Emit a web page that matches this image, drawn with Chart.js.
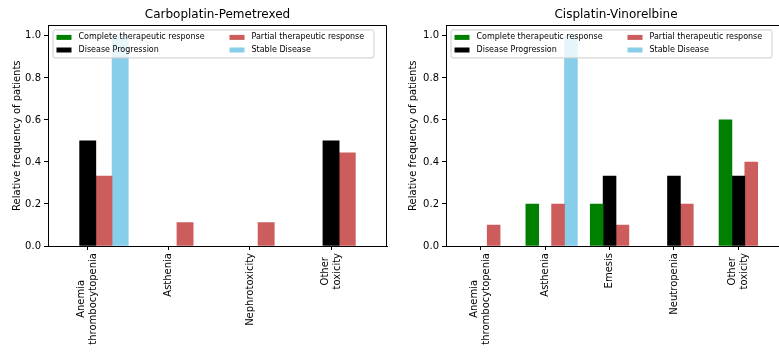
<!DOCTYPE html>
<html>
<head>
<meta charset="utf-8">
<script src="https://cdn.jsdelivr.net/npm/chart.js@4"></script>
<style>
  body { margin: 0; background: #fff; width: 779px; height: 352px; overflow: hidden; position: relative; }
  .box { position: absolute; top: 0; height: 352px; overflow: hidden; }
</style>
</head>
<body>
<div class="box" style="left:0;width:390px"><canvas id="chart1" width="390" height="352"></canvas></div>
<div class="box" style="left:390px;width:389px"><canvas id="chart2" width="396" height="352"></canvas></div>
<script>
// series names (legend order: column by column)
const seriesNames = ['Complete therapeutic response', 'Disease Progression', 'Partial therapeutic response', 'Stable Disease'];
const yTicks = [0, 0.2, 0.4, 0.6, 0.8, 1.0];

// Carboplatin-Pemetrexed
const carboCats = [['Anemia', 'thrombocytopenia'], 'Asthenia', 'Nephrotoxicity', ['Other', 'toxicity']];
const carboComplete = [0, 0, 0, 0];
const carboProgression = [0.5, 0, 0, 0.5];
const carboPartial = [0.333, 0.111, 0.111, 0.444];
const carboStable = [1.0, 0, 0, 0];

// Cisplatin-Vinorelbine
const cisCats = [['Anemia', 'thrombocytopenia'], 'Asthenia', 'Emesis', 'Neutropenia', ['Other', 'toxicity']];
const cisComplete = [0, 0.2, 0.2, 0, 0.6];
const cisProgression = [0, 0, 0.333, 0.333, 0.333];
const cisPartial = [0.1, 0.2, 0.1, 0.2, 0.4];
const cisStable = [0, 1.0, 0, 0, 0];

const colors = ['green', 'black', 'indianred', 'skyblue'];
const FONT = '"DejaVu Sans", sans-serif';
Chart.defaults.color = '#000';
Chart.defaults.font.family = FONT;

function makeChart(id, title, cats, series, xMin, xMax, yWidth, yTitlePad, padRight) {
    const toPoints = arr => arr.map((v, i) => ({x: i, y: v}));
    // empty first dataset so the black bar sits on the tick, as in the original
    const datasets = [{label: '', data: toPoints(cats.map(() => 0)), backgroundColor: 'rgba(0,0,0,0)'}];
    series.forEach((s, k) => {
        datasets.push({
            label: seriesNames[k],
            data: toPoints(s),
            backgroundColor: c => (c.raw && c.raw.y === 0) ? 'rgba(0,0,0,0)' : colors[k],
            borderWidth: 0
        });
    });

    const frame = {
        id: 'frame',
        afterDatasetsDraw(chart) {
            const ctx = chart.ctx, a = chart.chartArea;
            // legend box in upper left
            const lx = a.left + 4.5, ly = a.top + 4, lw = 321, lh = 28;
            ctx.save();
            ctx.fillStyle = 'rgba(255,255,255,0.8)';
            ctx.strokeStyle = '#cccccc';
            ctx.lineWidth = 1;
            ctx.beginPath();
            ctx.roundRect(lx + 0.5, ly + 0.5, lw, lh, 2);
            ctx.fill();
            ctx.stroke();
            ctx.font = '8px ' + FONT;
            ctx.textBaseline = 'middle';
            ctx.textAlign = 'left';
            seriesNames.forEach((name, k) => {
                const col = Math.floor(k / 2), row = k % 2;
                const sx = lx + 4 + col * 173, sy = ly + 8 + row * 12.6;
                ctx.fillStyle = colors[k];
                ctx.fillRect(sx, sy - 2.5, 15, 5);
                ctx.fillStyle = '#000';
                ctx.fillText(name, sx + 22, sy);
            });
            ctx.restore();
        },
        afterDraw(chart) {
            const ctx = chart.ctx, a = chart.chartArea, sc = chart.scales.x;
            ctx.save();
            // top and right spines
            ctx.strokeStyle = '#000';
            ctx.lineWidth = 1;
            ctx.beginPath();
            ctx.moveTo(Math.round(a.left) + 0.5, Math.round(a.top) + 0.5);
            ctx.lineTo(Math.round(a.right) - 0.5, Math.round(a.top) + 0.5);
            ctx.lineTo(Math.round(a.right) - 0.5, Math.round(a.bottom));
            ctx.stroke();
            // rotated category labels, lines centred like matplotlib
            ctx.font = '10px ' + FONT;
            ctx.fillStyle = '#000';
            ctx.textBaseline = 'middle';
            ctx.textAlign = 'center';
            cats.forEach((c, i) => {
                const lines = Array.isArray(c) ? c : [c];
                const w = Math.max(...lines.map(l => ctx.measureText(l).width));
                ctx.save();
                ctx.translate(sc.getPixelForValue(i), sc.top + 7);
                ctx.rotate(-Math.PI / 2);
                lines.forEach((l, j) => ctx.fillText(l, -w / 2, (j - (lines.length - 1) / 2) * 12));
                ctx.restore();
            });
            ctx.restore();
        }
    };

    return new Chart(document.getElementById(id).getContext('2d'), {
        type: 'bar',
        data: {datasets: datasets},
        plugins: [frame],
        options: {
            responsive: false,
            animation: false,
            layout: {padding: {left: 0, right: padRight, top: 0, bottom: 0}},
            datasets: {bar: {categoryPercentage: 1, barPercentage: 1}},
            plugins: {
                legend: {display: false},
                tooltip: {enabled: false},
                title: {
                    display: true,
                    text: title,
                    fullSize: false,
                    font: {size: 12, weight: 'normal', family: FONT},
                    color: '#000',
                    padding: {top: 8, bottom: 3}
                }
            },
            scales: {
                x: {
                    type: 'linear',
                    min: xMin,
                    max: xMax,
                    offset: false,
                    grid: {display: true, offset: false, drawOnChartArea: false, drawTicks: true, tickLength: 4, color: '#000'},
                    border: {display: true, color: '#000', width: 1},
                    ticks: {display: false},
                    afterBuildTicks: sc => { sc.ticks = cats.map((c, i) => ({value: i})); },
                    afterFit: sc => { sc.height = 106; }
                },
                y: {
                    min: 0,
                    max: 1.05,
                    grid: {display: true, drawOnChartArea: false, drawTicks: true, tickLength: 4, color: '#000'},
                    border: {display: true, color: '#000', width: 1},
                    ticks: {
                        font: {size: 10, family: FONT},
                        color: '#000',
                        padding: 3,
                        callback: v => v.toFixed(1)
                    },
                    afterBuildTicks: sc => { sc.ticks = yTicks.map(v => ({value: v})); },
                    afterFit: sc => { sc.width = yWidth; },
                    title: {
                        display: true,
                        text: 'Relative frequency of patients',
                        font: {size: 10, family: FONT},
                        color: '#000',
                        padding: {top: yTitlePad, bottom: 0}
                    }
                }
            }
        }
    });
}

makeChart('chart1', 'Carboplatin-Pemetrexed', carboCats,
    [carboComplete, carboProgression, carboPartial, carboStable], -0.49, 3.69, 48, 11, 3);
makeChart('chart2', 'Cisplatin-Vinorelbine', cisCats,
    [cisComplete, cisProgression, cisPartial, cisStable], -0.54, 4.74, 56, 17, 0);
</script>
</body>
</html>
